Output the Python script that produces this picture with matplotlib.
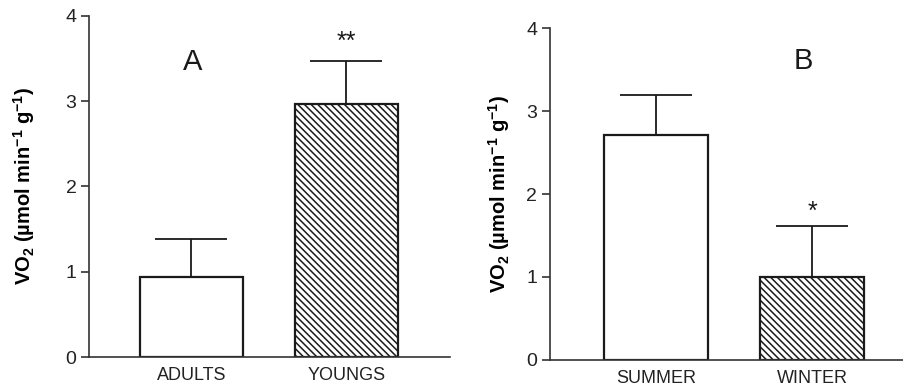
import matplotlib.pyplot as plt

plt.rcParams['font.family'] = ['Liberation Sans', 'DejaVu Sans']
plt.rcParams['mathtext.fontset'] = 'custom'
plt.rcParams['mathtext.rm'] = 'Liberation Sans:bold'
plt.rcParams['mathtext.it'] = 'Liberation Sans:bold'
plt.rcParams['mathtext.bf'] = 'Liberation Sans:bold'
plt.rcParams['mathtext.default'] = 'rm'
plt.rcParams['hatch.linewidth'] = 1.1

# panel A
labels_a = ["ADULTS", "YOUNGS"]
means_a = [0.94, 2.97]
errs_a = [0.44, 0.50]
stars_a = ["", "**"]

# panel B
labels_b = ["SUMMER", "WINTER"]
means_b = [2.71, 1.00]
errs_b = [0.48, 0.61]
stars_b = ["", "*"]

yticks = [0, 1, 2, 3, 4]
ylabel = r"VO$_2$ (µmol min$^{-1}$ g$^{-1}$)"


def draw_panel(ax, labels, means, errs, stars, letter, letter_pos, xlim,
               star_y, label_x):
    x = range(len(labels))
    hatches = ["", "\\\\\\\\\\"]
    for i in x:
        ax.bar(i, means[i], width=0.665, color="white", edgecolor="#1a1a1a",
               linewidth=1.6, hatch=hatches[i], zorder=2)
        ax.errorbar(i, means[i], yerr=[[0], [errs[i]]], fmt="none",
                    ecolor="#1a1a1a", elinewidth=1.3, capsize=26,
                    capthick=1.3, zorder=1)
        if stars[i]:
            ax.text(i, star_y[i], stars[i], ha="center", va="center",
                    fontsize=18, color="#1a1a1a")
    ax.text(letter_pos[0], letter_pos[1], letter, ha="center", va="center",
            fontsize=21, color="#1a1a1a")
    ax.set_xlim(*xlim)
    ax.set_ylim(0, 4)
    ax.set_yticks(yticks)
    ax.set_xticks(list(x))
    ax.set_xticklabels(labels, fontsize=13, color="#222222")
    ax.tick_params(axis="x", length=0, pad=7)
    ax.tick_params(axis="y", direction="out", length=6, width=1.2, pad=3,
                   labelsize=14, labelcolor="#222222", color="#333333")
    for side in ["top", "right"]:
        ax.spines[side].set_visible(False)
    ax.spines["left"].set_linewidth(1.2)
    ax.spines["bottom"].set_linewidth(1.2)
    ax.spines["left"].set_color("#333333")
    ax.spines["bottom"].set_color("#333333")
    ax.set_ylabel(ylabel, fontsize=14.5, fontweight="bold")
    ax.yaxis.set_label_coords(label_x, 0.5)


fig = plt.figure(figsize=(9.04, 3.87), dpi=100)
ax1 = fig.add_axes([0.0985, 0.0775, 0.3995, 0.8812])
ax2 = fig.add_axes([0.608, 0.0698, 0.391, 0.8578])

draw_panel(ax1, labels_a, means_a, errs_a, stars_a, "A", (0.01, 3.46),
           (-0.66, 1.67), [0, 3.70], -0.144)
draw_panel(ax2, labels_b, means_b, errs_b, stars_b, "B", (0.94, 3.6),
           (-0.68, 1.58), [0, 1.79], -0.1075)

fig.savefig("out.png", dpi=100)
